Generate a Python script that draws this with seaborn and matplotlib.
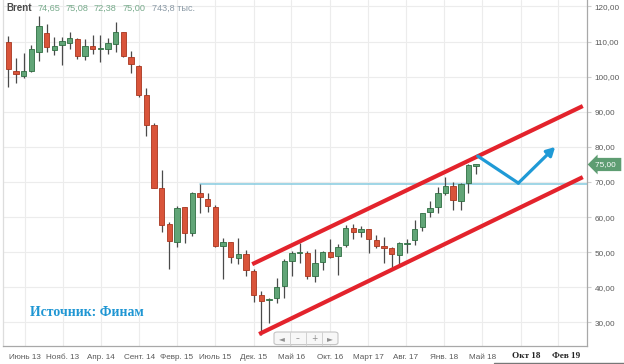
import numpy as np
import pandas as pd
import matplotlib
matplotlib.use("Agg")
import matplotlib.pyplot as plt
import matplotlib.transforms as mtransforms
from matplotlib.patches import FancyBboxPatch
import seaborn as sns

# ---------------- data (monthly Brent candles, Apr 2013 .. May 2018) ----------------
months = [str(p) for p in pd.period_range("2013-04", periods=62, freq="M")]
opens = [109.8, 101.7, 100.1, 101.7, 107.1, 112.4, 107.6, 109.0, 109.7, 110.7,
         105.9, 108.8, 108.0, 107.8, 109.2, 112.6, 105.5, 103.1, 94.8, 86.2,
         68.4, 58.0, 52.8, 62.8, 55.4, 66.8, 65.2, 63.0, 51.9, 52.8,
         48.5, 49.4, 44.6, 37.7, 36.3, 36.9, 40.5, 47.6, 49.8, 49.8,
         43.2, 47.3, 50.1, 48.9, 52.1, 56.8, 55.8, 56.5, 53.5, 51.9,
         51.3, 49.2, 52.4, 53.5, 57.1, 61.4, 63.0, 67.0, 68.9, 64.7,
         69.6, 74.65]
highs = [111.7, 105.4, 106.7, 109.0, 117.4, 114.9, 111.4, 111.4, 112.8, 110.9,
         110.6, 111.9, 111.9, 110.9, 115.7, 112.7, 107.4, 103.3, 96.7, 86.7,
         73.4, 58.5, 63.2, 63.0, 67.2, 69.5, 66.8, 63.6, 54.0, 53.0,
         54.0, 50.6, 45.1, 38.9, 37.0, 42.6, 48.0, 50.4, 52.5, 50.4,
         50.8, 50.4, 53.7, 52.3, 57.7, 58.0, 57.5, 56.6, 54.9, 54.4,
         51.4, 52.8, 53.7, 59.2, 61.2, 64.6, 68.7, 71.3, 70.1, 69.6,
         75.0, 75.08]
lows = [97.0, 98.3, 99.6, 101.4, 104.6, 107.1, 106.2, 103.2, 107.8, 105.0,
        104.8, 106.4, 104.1, 106.5, 107.1, 105.5, 101.2, 94.3, 83.1, 68.2,
        55.8, 45.1, 51.4, 52.5, 54.7, 61.3, 61.4, 51.6, 42.3, 46.8,
        46.6, 43.2, 35.9, 26.4, 29.9, 35.6, 37.1, 43.3, 46.8, 42.3,
        41.6, 44.9, 48.5, 43.5, 51.6, 53.7, 54.4, 49.9, 51.1, 46.8,
        45.1, 45.9, 49.9, 52.1, 56.1, 60.1, 61.3, 66.3, 62.0, 62.0,
        67.0, 72.38]
closes = [102.1, 100.8, 101.6, 107.8, 114.4, 108.5, 108.8, 110.1, 110.9, 106.0,
          108.7, 107.9, 108.2, 109.5, 112.6, 105.9, 103.5, 94.8, 86.2, 68.4,
          57.9, 53.2, 62.7, 55.4, 67.0, 65.6, 63.2, 51.9, 53.0, 48.7,
          49.4, 44.9, 37.8, 36.2, 36.7, 40.2, 47.5, 49.7, 50.0, 43.2,
          47.0, 50.0, 48.7, 51.4, 56.8, 55.8, 56.5, 53.8, 51.9, 51.1,
          49.4, 52.7, 52.6, 56.5, 61.1, 62.5, 66.8, 68.9, 64.9, 69.4,
          74.8, 75.00]

y_ticks = [30, 40, 50, 60, 70, 80, 90, 100, 110, 120]
y_tick_labels = ["30,00", "40,00", "50,00", "60,00", "70,00", "80,00",
                 "90,00", "100,00", "110,00", "120,00"]
x_tick_pos = [2.2, 7.1, 12.1, 17.1, 22.0, 27.0, 32.0, 36.9, 41.9, 46.9,
              51.8, 56.8, 61.8, 66.8, 71.7]
x_tick_labels = ["Июнь 13", "Нояб. 13", "Апр. 14", "Сент. 14", "Февр. 15",
                 "Июль 15", "Дек. 15", "Май 16", "Окт. 16", "Март 17",
                 "Авг. 17", "Янв. 18", "Май 18", "", ""]
extra_labels = ["Окт 18", "Фев 19"]
extra_label_pos = [67.5, 72.7]

level_start = 25        # index of candle whose high starts the level line
level_value = 69.5
channel_upper = {"x": [31.8, 74.9], "y": [46.6, 91.65]}
channel_lower = {"x": [32.7, 74.9], "y": [26.7, 71.4]}
forecast = {"x": [61.2, 66.5, 71.3], "y": [77.4, 69.7, 80.0]}

header_values = ["74,65", "75,08", "72,38", "75,00"]
header_volume = "743,8 тыс."
last_price = 75.00

# ---------------- styling ----------------
sns.set_theme(style="white")
plt.rcParams["font.family"] = ["Liberation Sans", "DejaVu Sans"]

GREEN = "#61a577"
GREEN_E = "#2f6d42"
RED = "#d9543a"
RED_E = "#a8361f"
WICK = "#4a4a4a"
GRID = "#ececec"
TXT = "#5a5a5a"

fig = plt.figure(figsize=(6.24, 3.64), dpi=100)
ax = fig.add_axes([3 / 624, 1 - 346 / 364, 584 / 624, 346 / 364])

df = pd.DataFrame({"month": months, "open": opens, "high": highs,
                   "low": lows, "close": closes})
df["idx"] = np.arange(len(df))
up = df["close"] >= df["open"]

# wicks
ax.vlines(df["idx"], df["low"], df["high"], color=WICK, lw=0.9, zorder=3)
# bodies
body_h = (df["close"] - df["open"]).abs().clip(lower=0.12)
ax.bar(df["idx"], body_h, bottom=np.minimum(df["open"], df["close"]),
       width=0.7, color=np.where(up, GREEN, RED),
       edgecolor=np.where(up, GREEN_E, RED_E), linewidth=0.6, zorder=4)

# level line
ax.plot([level_start, 80], [level_value, level_value], color="#86cbe0",
        lw=1.1, zorder=2)

# channel
for ch in (channel_upper, channel_lower):
    sns.lineplot(x=ch["x"], y=ch["y"], ax=ax, color="#e3232c", lw=3.0,
                 solid_capstyle="butt", zorder=5, estimator=None, sort=False)

# forecast arrow
sns.lineplot(x=forecast["x"][:2], y=forecast["y"][:2], ax=ax, color="#1f9ad6",
             lw=2.3, zorder=5, estimator=None, sort=False)
ax.annotate("", xy=(forecast["x"][2], forecast["y"][2]),
            xytext=(forecast["x"][1], forecast["y"][1]),
            arrowprops=dict(arrowstyle="-|>,head_length=0.55,head_width=0.3",
                            color="#1f9ad6", lw=2.3, shrinkA=0, shrinkB=0,
                            mutation_scale=9), zorder=5)

# axes
ax.set_xlim(-0.69, 75.45)
ax.set_ylim(23.3, 121.85)
ax.set_yticks(y_ticks)
ax.set_yticklabels(y_tick_labels)
ax.yaxis.tick_right()
ax.set_xticks(x_tick_pos)
ax.set_xticklabels(x_tick_labels)
ax.tick_params(axis="y", labelsize=5.9, colors="#cfcfcf", labelcolor=TXT,
               length=3, width=0.8, pad=2.5)
ax.tick_params(axis="x", labelsize=5.9, colors="#cfcfcf", labelcolor=TXT,
               length=3, width=0.8, pad=2.5)
ax.grid(True, color=GRID, lw=0.8)
ax.set_axisbelow(True)
ax.set_xlabel("")
ax.set_ylabel("")
ax.spines["top"].set_visible(False)
ax.spines["left"].set_color("#dddddd")
ax.spines["right"].set_color("#a8a8a8")
ax.spines["bottom"].set_color("#a8a8a8")
for s in ("left", "right", "bottom"):
    ax.spines[s].set_linewidth(0.9)

trans = mtransforms.blended_transform_factory(ax.transData, ax.transAxes)
for lab, xp in zip(extra_labels, extra_label_pos):
    ax.text(xp, -0.03, lab, transform=trans, ha="center", va="center",
            fontsize=6.6, fontweight="bold", color="#222222",
            family=["Liberation Serif", "DejaVu Serif"])

# header
ax.text(0.005, 0.976, "Brent", transform=ax.transAxes, fontsize=7,
        fontweight="bold", color="#4a4a4a", va="center", ha="left")
hx = [38, 66, 94, 123]
for v, x in zip(header_values, hx):
    ax.text((x - 3) / 584, 0.976, v, transform=ax.transAxes, fontsize=6.6,
            color="#78ab8c", va="center", ha="left")
ax.text((152 - 3) / 584, 0.976, header_volume, transform=ax.transAxes,
        fontsize=6.6, color="#8b9aa6", va="center", ha="left")

# source
ax.text((30 - 3) / 584, (346 - 312) / 346, "Источник: Финам",
        transform=ax.transAxes, fontsize=9.9, fontweight="bold",
        color="#1f96d3", va="center", ha="left",
        family=["Liberation Serif", "DejaVu Serif"])

# last price tag
ytrans = mtransforms.blended_transform_factory(ax.transAxes, ax.transData)
ax.text(1.014, last_price, "75,00 ", transform=ytrans, fontsize=5.9,
        color="white", va="center", ha="left", zorder=10, clip_on=False,
        bbox=dict(boxstyle="larrow,pad=0.38", fc="#5e9d72", ec="none"))

# scroll widget
wx0, wx1 = (274 - 3) / 584, (338 - 3) / 584
wy0, wy1 = 0.004, (346 - 332) / 346
box = FancyBboxPatch((wx0, wy0), wx1 - wx0, wy1 - wy0,
                     boxstyle="round,pad=0,rounding_size=0.006",
                     transform=ax.transAxes, fc="#f7f7f7", ec="#c4c4c4",
                     lw=0.8, zorder=6)
ax.add_patch(box)
seg = (wx1 - wx0) / 4
for k, sym in enumerate(["◄", "–", "+", "►"]):
    cx = wx0 + seg * (k + 0.5)
    ax.text(cx, (wy0 + wy1) / 2, sym, transform=ax.transAxes, fontsize=5.5,
            color="#8f8f8f", ha="center", va="center", zorder=7,
            family=["DejaVu Sans"])
    if k > 0:
        ax.plot([wx0 + seg * k] * 2, [wy0, wy1], transform=ax.transAxes,
                color="#d0d0d0", lw=0.7, zorder=7)

# bottom-right line
fig.add_artist(plt.Line2D([494 / 624, 1.0], [1.5 / 364, 1.5 / 364],
                          color="#777777", lw=1.0))

fig.savefig("out.png", dpi=100)
